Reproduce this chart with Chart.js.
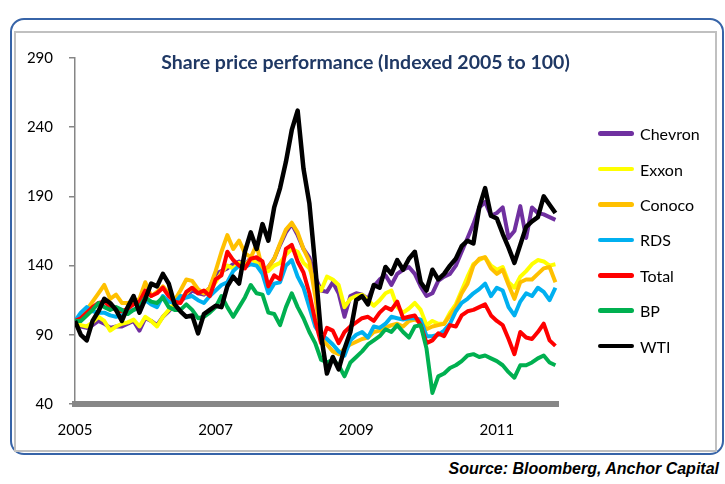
<!DOCTYPE html>
<html>
<head>
<meta charset="utf-8">
<script src="https://cdn.jsdelivr.net/npm/chart.js@4.4.1/dist/chart.umd.min.js"></script>
<style>
  body { margin: 0; background: #fff; width: 725px; height: 484px; overflow: hidden; font-family: Lato, sans-serif; }
  #frame { position: absolute; left: 10px; top: 18px; width: 710px; height: 433px; border: 2px solid #3764a8; border-radius: 14px; }
  #panel { position: absolute; left: 14px; top: 31px; width: 699px; height: 417px; border: 2px solid #c0c0c0; }
  #wrap { position: absolute; left: 16px; top: 33px; width: 699px; height: 417px; }
  #title { position: absolute; left: 16px; top: 50px; width: 699px; text-align: center; font: bold 19.5px Lato, sans-serif; color: #1f3864; line-height: 24px; }
  #legend { position: absolute; left: 598px; top: 116px; }
  .item { height: 35.4px; display: flex; align-items: center; font: 16px Lato, sans-serif; color: #000; }
  .swatch { width: 36px; height: 4.5px; border-radius: 3px; margin-right: 6px; }
  #source { position: absolute; right: 6px; top: 460px; font: italic bold 16px "Liberation Sans", Arial, sans-serif; color: #000; }
</style>
</head>
<body>
<div id="frame"></div>
<div id="panel"></div>
<div id="wrap"><canvas id="myChart"></canvas></div>
<div id="title">Share price performance (Indexed 2005 to 100)</div>
<div id="legend"></div>
<div id="source">Source: Bloomberg, Anchor Capital</div>
<script>
// monthly readings, Jan 2005 onwards
var startYear = 2005;
var xTicks = [2005, 2007, 2009, 2011];
var yTicks = [40, 90, 140, 190, 240, 290];

var seriesNames = ["Chevron", "Exxon", "Conoco", "RDS", "Total", "BP", "WTI"];
var seriesColors = ["#7030a0", "#ffff00", "#ffc000", "#00b0f0", "#ff0000", "#00b050", "#000000"];

var chevron = [100, 96, 95, 97, 100, 98, 95, 96, 96, 98, 100, 93,
  102, 100, 97, 103, 107, 112, 114, 118, 122, 120, 119, 124,
  134, 136, 138, 141, 143, 140, 146, 143, 137, 139, 145, 155,
  164, 170, 162, 152, 146, 132, 122, 121, 128, 120, 103, 118,
  120, 119, 116, 125, 130, 133, 126, 134, 137, 139, 134, 125,
  118, 120, 129, 132, 134, 140, 150, 160, 170, 182, 186, 176,
  178, 182, 160, 165, 183, 160, 182, 178, 177, 175, 173];
var exxon = [100, 97, 96, 99, 103, 100, 93, 96, 98, 99, 101, 96,
  103, 100, 96, 103, 108, 113, 115, 120, 124, 122, 120, 122,
  128, 135, 140, 138, 142, 140, 145, 142, 138, 136, 140, 142,
  148, 152, 150, 142, 138, 128, 122, 132, 130, 126, 110, 116,
  118, 119, 115, 111, 115, 120, 122, 110, 106, 109, 113, 108,
  97, 100, 98, 98, 106, 112, 122, 132, 141, 144, 146, 140,
  137, 139, 128, 124, 132, 136, 141, 144, 143, 140, 141];
var conoco = [100, 104, 108, 114, 120, 126, 116, 119, 113, 113, 114, 116,
  128, 118, 121, 125, 120, 115, 122, 130, 129, 123, 120, 124,
  136, 150, 162, 152, 158, 149, 146, 155, 137, 139, 145, 156,
  166, 171, 164, 152, 143, 118, 88, 83, 78, 76, 80, 83,
  85, 87, 88, 92, 93, 95, 97, 98, 96, 100, 101, 99,
  94, 96, 97, 98, 104, 110, 120, 127, 140, 145, 146, 138,
  134, 137, 126, 116, 128, 130, 130, 134, 138, 139, 128];
var rds = [100, 106, 110, 107, 106, 106, 104, 103, 104, 107, 108, 110,
  115, 112, 110, 118, 114, 113, 118, 117, 118, 115, 113, 118,
  122, 126, 128, 136, 140, 139, 141, 140, 134, 120, 127, 128,
  140, 144, 132, 124, 110, 96, 90, 87, 83, 78, 75, 86,
  90, 92, 88, 96, 95, 98, 103, 102, 101, 102, 102, 101,
  89, 89, 90, 93, 98, 107, 113, 116, 120, 123, 127, 118,
  124, 122, 110, 104, 114, 120, 118, 124, 121, 115, 124];
var total = [100, 102, 106, 110, 113, 114, 110, 108, 107, 109, 112, 114,
  122, 118, 120, 124, 118, 114, 113, 121, 124, 120, 122, 118,
  130, 133, 150, 144, 140, 138, 145, 146, 143, 125, 133, 130,
  152, 155, 143, 135, 120, 100, 84, 95, 93, 84, 92, 96,
  99, 102, 103, 100, 106, 110, 108, 114, 102, 103, 104, 97,
  84, 86, 91, 89, 97, 96, 104, 107, 108, 110, 112, 104,
  100, 97, 87, 76, 92, 88, 87, 92, 98, 86, 82];
var bp = [100, 100, 104, 108, 113, 110, 108, 110, 108, 105, 108, 110,
  117, 114, 113, 117, 110, 108, 108, 112, 108, 102, 103, 106,
  110, 118, 110, 103, 110, 117, 126, 120, 119, 106, 105, 97,
  110, 120, 110, 102, 92, 84, 72, 70, 72, 68, 60, 70,
  74, 78, 83, 86, 89, 94, 92, 97, 92, 88, 96, 97,
  80, 48, 60, 62, 66, 68, 71, 75, 76, 74, 75, 73,
  71, 68, 63, 59, 68, 68, 70, 73, 75, 70, 68];
var wti = [100, 90, 86, 100, 107, 116, 113, 108, 100, 110, 118, 106,
  116, 127, 125, 134, 127, 112, 107, 103, 104, 91, 105, 108,
  111, 110, 125, 132, 127, 150, 164, 152, 170, 158, 182, 196,
  215, 238, 252, 210, 185, 140, 90, 62, 74, 65, 80, 92,
  115, 118, 112, 126, 124, 139, 134, 144, 137, 145, 150, 128,
  122, 137, 130, 134, 140, 145, 154, 158, 156, 182, 196, 176,
  174, 163, 153, 142, 155, 168, 172, 175, 190, 184, 178];

var seriesValues = [chevron, exxon, conoco, rds, total, bp, wti];

function toPoints(values) {
  return values.map(function (v, i) {
    return { x: startYear + i / 12, y: v };
  });
}

var datasets = seriesNames.map(function (name, k) {
  return {
    label: name,
    data: toPoints(seriesValues[k]),
    borderColor: seriesColors[k],
    backgroundColor: seriesColors[k],
    borderWidth: k == 6 ? 4.5 : 4,
    borderJoinStyle: 'round',
    pointRadius: 0,
    tension: 0,
    order: seriesNames.length - 1 - k
  };
});

const config = {
  type: 'line',
  data: { datasets: datasets },
  options: {
    animation: false,
    responsive: true,
    maintainAspectRatio: false,
    layout: { padding: { top: 19, right: 157, bottom: 0, left: 0 } },
    plugins: {
      legend: { display: false },
      title: { display: false },
      tooltip: { enabled: false }
    },
    scales: {
      x: {
        type: 'linear',
        min: 2005,
        max: 2011.87,
        afterFit: function (scale) { scale.height = 46; },
        afterBuildTicks: function (scale) {
          scale.ticks = xTicks.map(function (v) { return { value: v }; });
        },
        grid: { display: false, drawTicks: false },
        border: { display: true, color: '#878787', width: 6 },
        ticks: {
          padding: 17,
          maxRotation: 0,
          color: '#000',
          font: { family: 'Lato', size: 15 },
          callback: function (v) { return String(v); }
        }
      },
      y: {
        min: 40,
        max: 290,
        afterFit: function (scale) { scale.width = 59; },
        afterBuildTicks: function (scale) {
          scale.ticks = yTicks.map(function (v) { return { value: v }; });
        },
        grid: { drawOnChartArea: false, color: '#868686', tickLength: 6, lineWidth: 1.5 },
        border: { display: true, color: '#868686', width: 1.5 },
        ticks: {
          padding: 16,
          color: '#000',
          font: { family: 'Lato', size: 15 }
        }
      }
    }
  }
};

var ctx = document.getElementById('myChart');
var myChart = new Chart(ctx, config);

// legend on the right
var legendBox = document.getElementById('legend');
seriesNames.forEach(function (name, k) {
  var row = document.createElement('div');
  row.className = 'item';
  var sw = document.createElement('span');
  sw.className = 'swatch';
  sw.style.background = seriesColors[k];
  row.appendChild(sw);
  row.appendChild(document.createTextNode(name));
  legendBox.appendChild(row);
});
</script>
</body>
</html>
